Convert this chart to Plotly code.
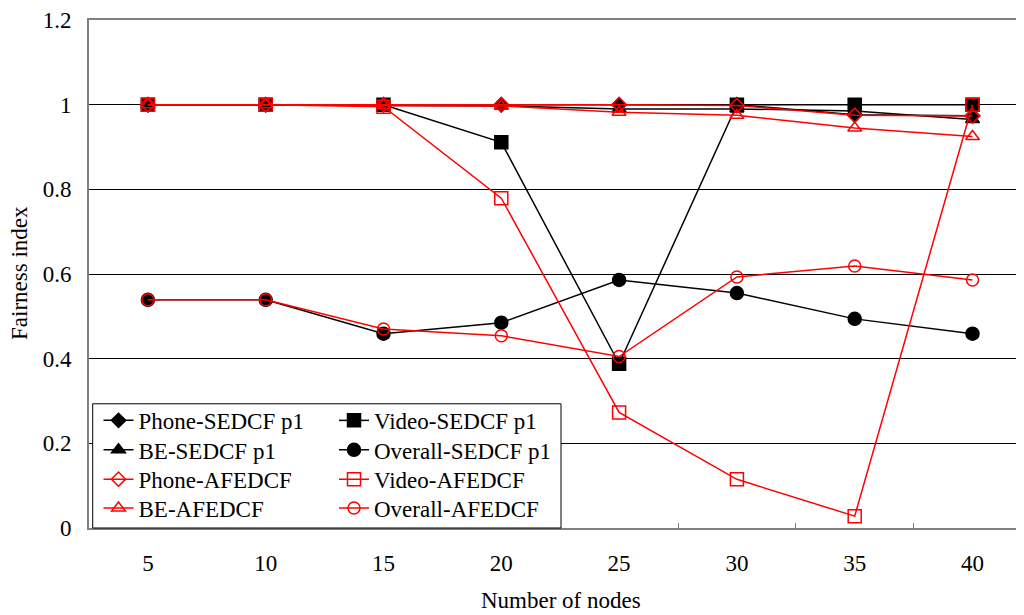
import plotly.graph_objects as go

nodes = ["5", "10", "15", "20", "25", "30", "35", "40"]

phone_sedcf = [1.0, 1.0, 1.0, 1.0, 1.0, 1.0, 0.976, 0.974]
video_sedcf = [1.0, 1.0, 1.0, 0.911, 0.388, 1.0, 1.0, 1.0]
be_sedcf = [1.0, 1.0, 0.998, 0.997, 0.99, 0.99, 0.985, 0.965]
overall_sedcf = [0.539, 0.539, 0.459, 0.485, 0.586, 0.555, 0.494, 0.459]
phone_afedcf = [1.0, 1.0, 1.0, 1.0, 1.0, 0.998, 0.975, 0.973]
video_afedcf = [1.0, 1.0, 0.995, 0.779, 0.273, 0.115, 0.028, 1.0]
be_afedcf = [1.0, 1.0, 0.998, 0.997, 0.982, 0.975, 0.945, 0.925]
overall_afedcf = [0.539, 0.539, 0.47, 0.454, 0.405, 0.593, 0.619, 0.586]

FONT = "Liberation Serif, Times New Roman, serif"
FS = 23
BLACK = "#000000"
RED = "#FF0000"

series = [
    ("Phone-SEDCF p1", phone_sedcf, BLACK, "diamond", 11, "legend"),
    ("Video-SEDCF p1", video_sedcf, BLACK, "square", 13, "legend2"),
    ("BE-SEDCF p1", be_sedcf, BLACK, "triangle-up", 12, "legend3"),
    ("Overall-SEDCF p1", overall_sedcf, BLACK, "circle", 13, "legend4"),
    ("Phone-AFEDCF", phone_afedcf, RED, "diamond-open", 11, "legend5"),
    ("Video-AFEDCF", video_afedcf, RED, "square-open", 13, "legend6"),
    ("BE-AFEDCF", be_afedcf, RED, "triangle-up-open", 12, "legend7"),
    ("Overall-AFEDCF", overall_afedcf, RED, "circle-open", 12, "legend8"),
]

fig = go.Figure()
for name, vals, color, sym, size, leg in series:
    fig.add_trace(go.Scatter(
        x=nodes, y=vals, name=name, mode="lines+markers",
        line=dict(color=color, width=1.5),
        marker=dict(symbol=sym, size=size, color=color,
                    line=dict(color=color, width=1.5)),
        legend=leg,
    ))

# The page body adds an 8px offset; the figure is sized so that it ends at the
# window edge and all reference pixel positions are shifted by this offset.
OFF = 8
W, H = 1024 - OFF, 615 - OFF
L = 89 - OFF
T = 18 - OFF
B = 615 - 528
pw = W - L
ph = H - T - B

def px_x(p):
    return (p - 89) / pw

def px_y(p):
    return (528 - p) / ph

col_x = [px_x(98.5), px_x(334)]
row_y = [px_y(420), px_y(449.5), px_y(479), px_y(508)]

legend_cfg = {}
for i in range(8):
    key = "legend" if i == 0 else f"legend{i+1}"
    legend_cfg[key] = dict(
        x=col_x[i % 2], y=row_y[i // 2], xanchor="left", yanchor="middle",
        bgcolor="rgba(0,0,0,0)", borderwidth=0,
        font=dict(family=FONT, size=FS, color="black"),
    )

cat_w = 117.8
fig.update_layout(
    width=W, height=H,
    margin=dict(l=L, r=0, t=T, b=B, pad=0),
    paper_bgcolor="white", plot_bgcolor="white",
    font=dict(family=FONT, size=FS, color="black"),
    showlegend=True,
    xaxis=dict(
        type="category", range=[-0.5, -0.5 + pw / cat_w],
        showline=True, linecolor="#808080", linewidth=2, mirror=True,
        ticks="inside", tickson="boundaries", ticklen=5, tickcolor="#808080", tickwidth=1,
        showgrid=False, zeroline=False,
        tickfont=dict(family=FONT, size=FS, color="black"),
        ticklabelstandoff=13, ticklabeloverflow="allow",
    ),
    yaxis=dict(
        range=[0, 1.2], dtick=0.2, tick0=0,
        showgrid=True, gridcolor="black", gridwidth=1,
        showline=True, linecolor="#808080", linewidth=2,
        ticks="", zeroline=False,
        tickfont=dict(family=FONT, size=FS, color="black"),
        ticklabelstandoff=11, ticklabeloverflow="allow",
    ),
    shapes=[dict(
        type="rect", xref="paper", yref="paper",
        x0=px_x(92.7), x1=px_x(561), y0=0, y1=px_y(403.3),
        line=dict(color="black", width=1), fillcolor="white", layer="above",
    )],
    annotations=[
        dict(text="Number of nodes", xref="paper", yref="paper",
             x=px_x(561), y=px_y(601), xanchor="center", yanchor="middle",
             showarrow=False, font=dict(family=FONT, size=FS, color="black")),
        dict(text="Fairness index", xref="paper", yref="paper",
             x=px_x(19), y=px_y(272), xanchor="center", yanchor="middle",
             textangle=-90, showarrow=False, borderpad=0,
             font=dict(family=FONT, size=FS, color="black")),
    ],
    **legend_cfg,
)

fig.write_html("out.html")
